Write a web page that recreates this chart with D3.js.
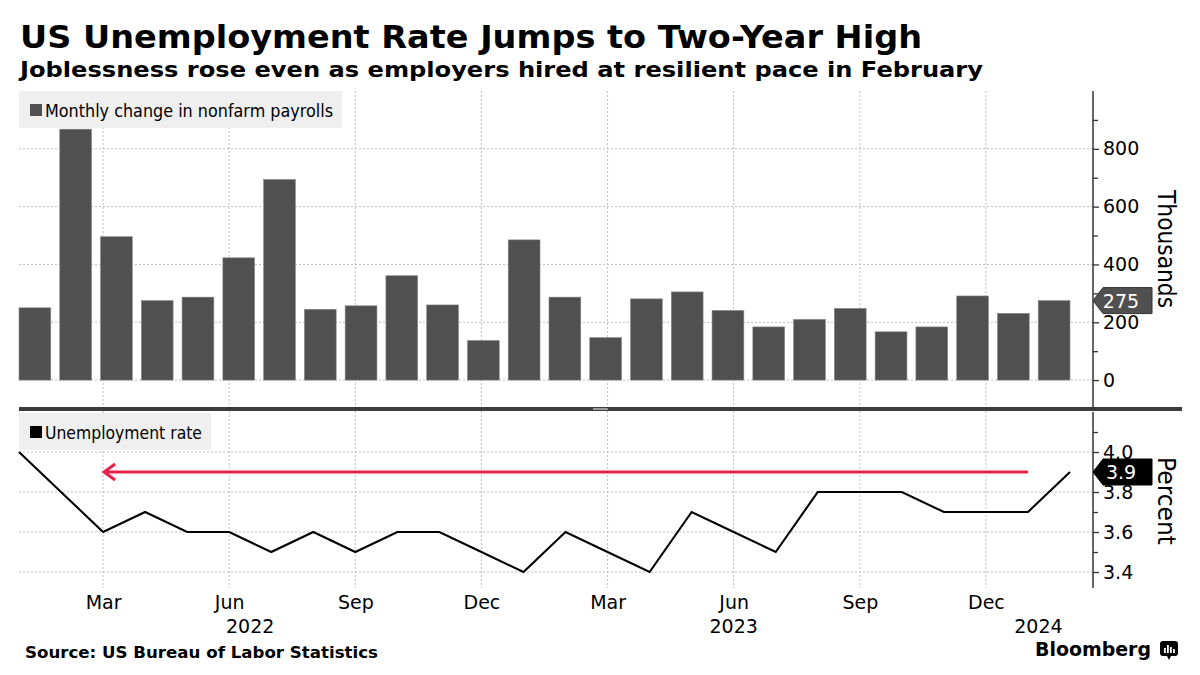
<!DOCTYPE html>
<html><head><meta charset="utf-8">
<script src="https://cdn.jsdelivr.net/npm/d3@7"></script>
<style>body{margin:0;background:#fff}svg{display:block}</style>
</head><body>
<svg id="chart" width="1200" height="675"></svg>
<script>
// ---------- DATA ----------
const months = ["2022-01","2022-02","2022-03","2022-04","2022-05","2022-06","2022-07","2022-08","2022-09","2022-10","2022-11","2022-12",
                "2023-01","2023-02","2023-03","2023-04","2023-05","2023-06","2023-07","2023-08","2023-09","2023-10","2023-11","2023-12",
                "2024-01","2024-02"];
const payrolls = [250, 868, 496, 275, 287, 423, 694, 245, 257, 361, 260, 137,
                  485, 287, 147, 281, 305, 241, 184, 210, 248, 167, 184, 291,
                  231, 275];
const unemployment = [4.0, 3.8, 3.6, 3.7, 3.6, 3.6, 3.5, 3.6, 3.5, 3.6, 3.6, 3.5,
                      3.4, 3.6, 3.5, 3.4, 3.7, 3.6, 3.5, 3.8, 3.8, 3.8, 3.7, 3.7,
                      3.7, 3.9];
const payrollTicks = [0, 200, 400, 600, 800];
const payrollMinorTicks = [100, 300, 500, 700, 900];
const rateTicks = [3.4, 3.6, 3.8, 4.0];
const rateMinorTicks = [3.5, 3.7, 3.9, 4.1];
const quarterMonths = ["2022-03","2022-06","2022-09","2022-12","2023-03","2023-06","2023-09","2023-12"];
const yearLabels = ["2022", "2023", "2024"];
const yearLabelMonthIndex = [5.5, 17, 24.25];
const arrowFrom = "2024-01", arrowTo = "2022-03", arrowLevel = 3.9;

const title = "US Unemployment Rate Jumps to Two-Year High";
const subtitle = "Joblessness rose even as employers hired at resilient pace in February";
const source = "Source: US Bureau of Labor Statistics";

// ---------- SETUP ----------
const svg = d3.select("#chart");
const FONT = "DejaVu Sans, Verdana, sans-serif";
const L = 19, R = 1070, AX = 1093;
const upTop = 91, upBot = 409, loTop = 412, loBot = 588;

const xPoint = d3.scalePoint().domain(months).range([L, R]);
const xBand = d3.scaleBand().domain(months).range([L, R]).paddingInner(0.22).paddingOuter(0);
const xIdx = d3.scaleLinear().domain([0, months.length - 1]).range([L, R]);
const yUp = d3.scaleLinear().domain([-100, 1000]).range([upBot, upTop]);
const yLo = d3.scaleLinear().domain([3.3, 4.2]).range([592, 412]);

// titles
function fit(sel, w) { sel.attr("textLength", w).attr("lengthAdjust", "spacingAndGlyphs"); return sel; }
fit(svg.append("text").attr("x", 20).attr("y", 48).attr("font-family", FONT).attr("font-weight", "bold")
  .attr("font-size", 32).attr("fill", "#000").text(title), 902);
fit(svg.append("text").attr("x", 20).attr("y", 77).attr("font-family", FONT).attr("font-weight", "bold")
  .attr("font-size", 21).attr("fill", "#000").text(subtitle), 963);

// gridlines
const grid = svg.append("g").attr("stroke", "#bdbdbd").attr("stroke-width", 1).attr("stroke-dasharray", "2,2");
grid.selectAll("line.hu").data(payrollTicks).join("line")
  .attr("x1", L).attr("x2", AX).attr("y1", d => yUp(d)).attr("y2", d => yUp(d));
grid.selectAll("line.hl").data(rateTicks).join("line").attr("class","hl")
  .attr("x1", L).attr("x2", AX).attr("y1", d => yLo(d)).attr("y2", d => yLo(d));
grid.selectAll("line.v").data(quarterMonths).join("line").attr("class","v")
  .attr("x1", d => xPoint(d)).attr("x2", d => xPoint(d)).attr("y1", upTop).attr("y2", loBot);

// legend boxes
function legend(x, y, w, h, color, label, tw) {
  svg.append("rect").attr("x", x).attr("y", y).attr("width", w).attr("height", h).attr("fill", "#efefef");
  svg.append("rect").attr("x", x + 11).attr("y", y + 13).attr("width", 12).attr("height", 12).attr("fill", color);
  fit(svg.append("text").attr("x", x + 26).attr("y", y + 26).attr("font-family", FONT).attr("font-size", 17)
    .attr("fill", "#000").text(label), tw);
}
legend(L, 91, 323, 37, "#505050", "Monthly change in nonfarm payrolls", 288);

// bars
svg.append("g").selectAll("rect").data(months).join("rect")
  .attr("x", d => xBand(d)).attr("width", xBand.bandwidth())
  .attr("y", (d, i) => yUp(Math.max(0, payrolls[i])))
  .attr("height", (d, i) => Math.abs(yUp(payrolls[i]) - yUp(0)))
  .attr("fill", "#505050").attr("stroke", "#8a8a8a").attr("stroke-width", 0.6);

legend(L, 413, 192, 37, "#000", "Unemployment rate", 157);

// red arrow
const ay = yLo(arrowLevel);
const ax0 = xPoint(arrowFrom), ax1 = xPoint(arrowTo);
const red = "#e8234a";
svg.append("line").attr("x1", ax0).attr("x2", ax1 + 1).attr("y1", ay).attr("y2", ay)
  .attr("stroke", red).attr("stroke-width", 3);
svg.append("path").attr("d", `M${ax1 + 12},${ay - 8} L${ax1 + 1},${ay} L${ax1 + 12},${ay + 8}`)
  .attr("fill", "none").attr("stroke", red).attr("stroke-width", 3).attr("stroke-linejoin", "miter");

// unemployment line
const line = d3.line().x((d, i) => xPoint(months[i])).y(d => yLo(d));
svg.append("path").datum(unemployment).attr("d", line)
  .attr("fill", "none").attr("stroke", "#000").attr("stroke-width", 2.1).attr("stroke-linejoin", "miter");

// separator
svg.append("rect").attr("x", L).attr("y", 407).attr("width", 1182 - L).attr("height", 4).attr("fill", "#3c3c3c");
svg.append("rect").attr("x", 593).attr("y", 408).attr("width", 15).attr("height", 2).attr("fill", "#9a9a9a");

// right axes
function rightAxis(scale, major, minor, y0, y1) {
  const g = svg.append("g").attr("transform", `translate(${AX},0)`);
  g.append("line").attr("x1", 0).attr("x2", 0).attr("y1", y0).attr("y2", y1).attr("stroke", "#333").attr("stroke-width", 1.5);
  const gMaj = g.append("g").call(d3.axisRight(scale).tickValues(major).tickSize(6).tickPadding(4)
    .tickFormat(d => scale === yLo ? d3.format(".1f")(d) : d3.format("d")(d)));
  const gMin = g.append("g").call(d3.axisRight(scale).tickValues(minor).tickSize(5).tickFormat(""));
  [gMaj, gMin].forEach(a => { a.select(".domain").remove(); a.selectAll("line").attr("stroke", "#333").attr("stroke-width", 1.3); });
  gMaj.selectAll("text").attr("font-family", FONT).attr("font-size", 19).attr("fill", "#000");
  return g;
}
rightAxis(yUp, payrollTicks, payrollMinorTicks, upTop, upBot);
rightAxis(yLo, rateTicks, rateMinorTicks, loTop, loBot);

// axis titles (rotated)
fit(svg.append("text").attr("transform", `translate(1158,249) rotate(90)`).attr("text-anchor", "middle")
  .attr("font-family", FONT).attr("font-size", 24).attr("fill", "#000").text("Thousands"), 118);
fit(svg.append("text").attr("transform", `translate(1158,501) rotate(90)`).attr("text-anchor", "middle")
  .attr("font-family", FONT).attr("font-size", 24).attr("fill", "#000").text("Percent"), 88);

// value badges
function badge(yv, fill, label) {
  const x0 = AX, x1 = 1152, h = 26;
  svg.append("path").attr("d", `M${x0},${yv} L${x0 + 10},${yv - h / 2} L${x1},${yv - h / 2} L${x1},${yv + h / 2} L${x0 + 10},${yv + h / 2} Z`)
    .attr("fill", fill).attr("stroke", fill === "#000" ? "#000" : "#333").attr("stroke-width", 1);
  svg.append("text").attr("x", 1121).attr("y", yv + 7).attr("text-anchor", "middle")
    .attr("font-family", FONT).attr("font-size", 19).attr("fill", "#fff").text(label);
}
badge(yUp(payrolls[payrolls.length - 1]), "#505050", d3.format("d")(payrolls[payrolls.length - 1]));
badge(yLo(unemployment[unemployment.length - 1]), "#000", d3.format(".1f")(unemployment[unemployment.length - 1]));

// x axis month labels
const xa = svg.append("g").attr("transform", `translate(0,${loBot})`)
  .call(d3.axisBottom(xPoint).tickValues(quarterMonths).tickSize(0).tickPadding(7.5)
    .tickFormat(d => d3.timeFormat("%b")(d3.timeParse("%Y-%m")(d))));
xa.select(".domain").remove();
xa.selectAll("text").attr("font-family", FONT).attr("font-size", 19).attr("fill", "#000");

// year labels
svg.append("g").selectAll("text").data(yearLabels).join("text")
  .attr("x", (d, i) => xIdx(yearLabelMonthIndex[i])).attr("y", 633).attr("text-anchor", "middle")
  .attr("font-family", FONT).attr("font-size", 19).attr("fill", "#000").text(d => d);

// footer
fit(svg.append("text").attr("x", 25).attr("y", 658).attr("font-family", FONT).attr("font-weight", "bold")
  .attr("font-size", 16).attr("fill", "#000").text(source), 353);
fit(svg.append("text").attr("x", 1035).attr("y", 656).attr("font-family", FONT).attr("font-weight", "bold")
  .attr("font-size", 19).attr("fill", "#000").text("Bloomberg"), 116);
const logo = svg.append("g").attr("transform", "translate(1160,641)");
logo.append("rect").attr("width", 18).attr("height", 15).attr("rx", 3).attr("fill", "#000");
logo.append("path").attr("d", "M7,15 L9,19 L11,15 Z").attr("fill", "#000");
[[4, 7], [7, 4], [10, 6], [13, 8]].forEach(([x, t]) =>
  logo.append("rect").attr("x", x).attr("y", t).attr("width", 1.8).attr("height", 12 - t).attr("fill", "#fff"));
</script>
</body></html>
